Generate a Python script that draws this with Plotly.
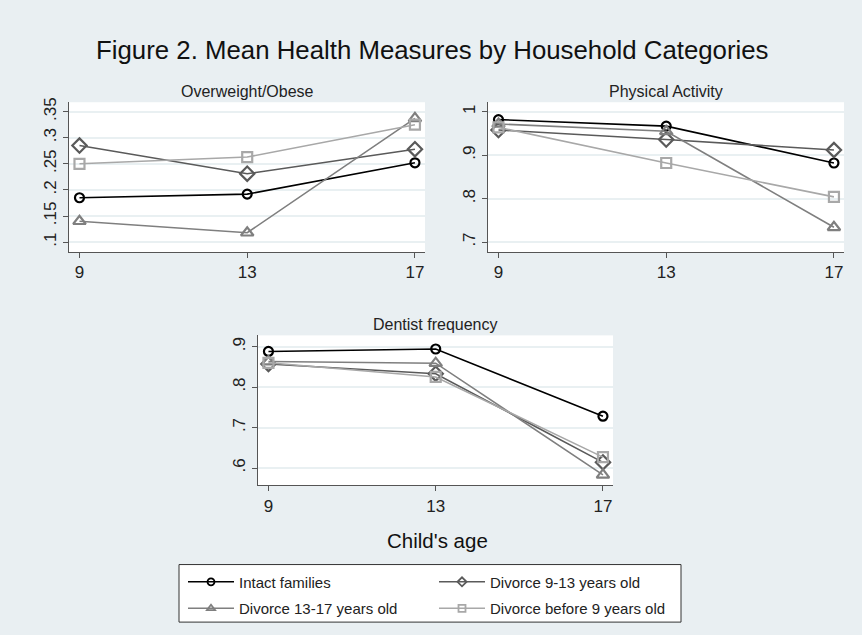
import plotly.graph_objects as go

ages = [9, 13, 17]
series_names = ["Intact families", "Divorce 9-13 years old",
                "Divorce 13-17 years old", "Divorce before 9 years old"]

# Overweight/Obese
ow_intact = [0.185, 0.192, 0.252]
ow_div913 = [0.285, 0.231, 0.278]
ow_div1317 = [0.140, 0.118, 0.337]
ow_before9 = [0.250, 0.263, 0.325]

# Physical Activity
pa_intact = [0.982, 0.967, 0.882]
pa_div913 = [0.958, 0.936, 0.912]
pa_div1317 = [0.972, 0.955, 0.734]
pa_before9 = [0.964, 0.882, 0.804]

# Dentist frequency
df_intact = [0.888, 0.894, 0.728]
df_div913 = [0.857, 0.833, 0.614]
df_div1317 = [0.863, 0.859, 0.583]
df_before9 = [0.860, 0.825, 0.627]

ow_ticks = [0.1, 0.15, 0.2, 0.25, 0.3, 0.35]
ow_ticktext = [".1", ".15", ".2", ".25", ".3", ".35"]
pa_ticks = [0.7, 0.8, 0.9, 1.0]
pa_ticktext = [".7", ".8", ".9", "1"]
df_ticks = [0.6, 0.7, 0.8, 0.9]
df_ticktext = [".6", ".7", ".8", ".9"]

colors = ["#000000", "#5a5a5a", "#7f7f7f", "#a8a8a8"]
symbols = ["circle-open", "diamond-open", "triangle-up-open", "square-open"]
msizes = [9, 11, 11, 10]
legend_ids = ["legend", "legend2", "legend", "legend2"]

panels = [
    ("x", "y", [ow_intact, ow_div913, ow_div1317, ow_before9]),
    ("x2", "y2", [pa_intact, pa_div913, pa_div1317, pa_before9]),
    ("x3", "y3", [df_intact, df_div913, df_div1317, df_before9]),
]

fig = go.Figure()
for pi, (xa, ya, data) in enumerate(panels):
    for si, vals in enumerate(data):
        fig.add_trace(go.Scatter(
            x=ages, y=vals, xaxis=xa, yaxis=ya, mode="lines+markers",
            name=series_names[si], legendgroup=series_names[si],
            showlegend=False,
            line=dict(color=colors[si], width=1.6),
            marker=dict(symbol=symbols[si], size=msizes[si], color=colors[si],
                        line=dict(width=2.2, color=colors[si])),
        ))

# legend-only entries (smaller symbols, like the original key)
for si, name in enumerate(series_names):
    fig.add_trace(go.Scatter(
        x=[None], y=[None], mode="lines+markers", name=name,
        legendgroup=name, legend=legend_ids[si], showlegend=True,
        line=dict(color=colors[si], width=1.6),
        marker=dict(symbol=symbols[si], size=7, color=colors[si],
                    line=dict(width=1.8, color=colors[si])),
    ))

W, H = 862, 635
def dx(a, b):
    return [a / W, b / W]
def dy(top, bottom):
    return [1 - bottom / H, 1 - top / H]

FONT = "Liberation Sans, Arial"
axis_common = dict(showline=True, linecolor="#555555", linewidth=1,
                   ticks="outside", ticklen=5, tickcolor="#555555",
                   zeroline=False, mirror=False)
xcommon = dict(axis_common, tickvals=ages, ticktext=["9", "13", "17"],
               showgrid=False, tickfont=dict(size=17, color="#222222", family=FONT),
               range=[8.75, 17.24])
ycommon = dict(axis_common, showgrid=True, gridcolor="#e9f0f2", gridwidth=1.5,
               tickangle=-90, tickfont=dict(size=17, color="#222222", family=FONT))

leg_common = dict(orientation="v", xanchor="left", yanchor="top",
                  bgcolor="rgba(0,0,0,0)", borderwidth=0,
                  font=dict(size=15, color="#222222", family=FONT),
                  itemwidth=46, traceorder="grouped", tracegroupgap=4)

fig.update_layout(
    width=W, height=H,
    margin=dict(l=0, r=0, t=0, b=0),
    paper_bgcolor="#e9eff2",
    plot_bgcolor="#ffffff",
    font=dict(family=FONT, color="#222222"),
    xaxis=dict(xcommon, domain=dx(69, 425), anchor="y"),
    yaxis=dict(ycommon, domain=dy(98, 249), anchor="x", range=[0.081, 0.368],
               tickvals=ow_ticks, ticktext=ow_ticktext),
    xaxis2=dict(xcommon, domain=dx(488, 844), anchor="y2"),
    yaxis2=dict(ycommon, domain=dy(98, 249), anchor="x2", range=[0.677, 1.022],
                tickvals=pa_ticks, ticktext=pa_ticktext),
    xaxis3=dict(xcommon, domain=dx(258, 613), anchor="y3"),
    yaxis3=dict(ycommon, domain=dy(333, 484), anchor="x3", range=[0.5576, 0.9277],
                tickvals=df_ticks, ticktext=df_ticktext),
    showlegend=True,
    legend=dict(leg_common, x=183 / W, y=1 - 565 / H),
    legend2=dict(leg_common, x=434 / W, y=1 - 565 / H),
)

# legend frame
fig.add_shape(type="rect", xref="paper", yref="paper",
              x0=179 / W, x1=681 / W, y0=1 - 622 / H, y1=1 - 564 / H,
              line=dict(color="#333333", width=1), fillcolor="#ffffff",
              layer="below")

annos = [
    dict(text="Figure 2. Mean Health Measures by Household Categories",
         x=433 / W, y=1 - 45 / H, font=dict(size=25.8, color="#111111")),
    dict(text="Overweight/Obese", x=247 / W, y=1 - 87 / H,
         font=dict(size=16, color="#222222")),
    dict(text="Physical Activity", x=666 / W, y=1 - 87 / H,
         font=dict(size=16, color="#222222")),
    dict(text="Dentist frequency", x=435 / W, y=1 - 322 / H,
         font=dict(size=16, color="#222222")),
    dict(text="Child's age", x=437 / W, y=1 - 540 / H,
         font=dict(size=20.5, color="#111111")),
]
for a in annos:
    fig.add_annotation(xref="paper", yref="paper", showarrow=False,
                       xanchor="center", yanchor="middle", **a)

fig.write_html("out.html", post_script="document.body.style.margin='0';",
               config={"displayModeBar": False})
